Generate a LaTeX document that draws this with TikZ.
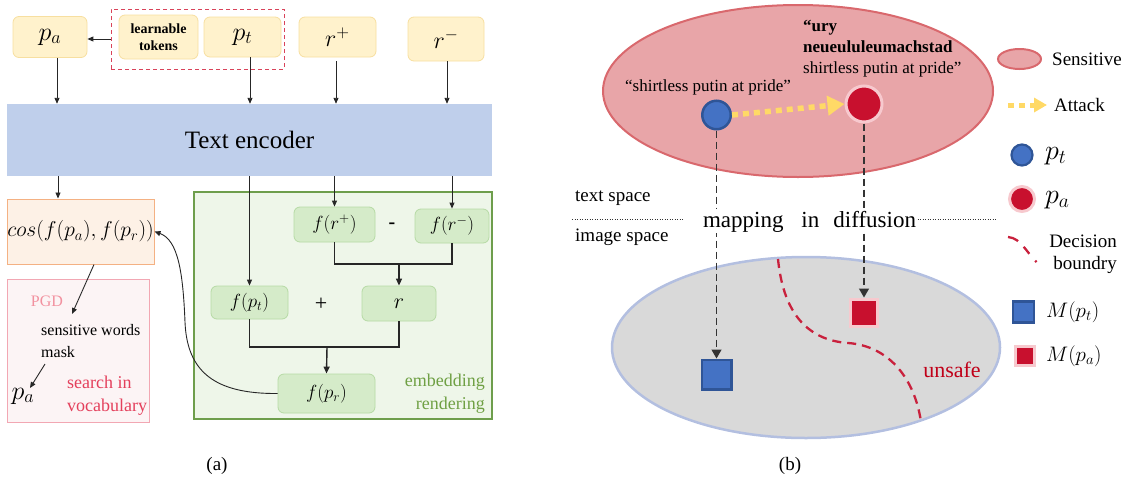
\documentclass[tikz,border=0pt]{standalone}
\usepackage{fix-cm}
\usepackage{fontspec}
\setmainfont{Liberation Serif}
\usetikzlibrary{arrows.meta,shapes.geometric}
\newcommand{\fsz}[2]{\fontsize{#1}{#2}\selectfont}
\definecolor{cYbox}{HTML}{FFF2CC}
\definecolor{cYline}{HTML}{F7DFA0}
\definecolor{cEnc}{HTML}{BFCFEB}
\definecolor{cDash}{HTML}{D9435A}
\definecolor{cCosFill}{HTML}{FDF1E6}
\definecolor{cCosLine}{HTML}{F4B183}
\definecolor{cPgdFill}{HTML}{FCF4F5}
\definecolor{cPgdLine}{HTML}{F2A7B3}
\definecolor{cPgdTxt}{HTML}{F2919F}
\definecolor{cSearch}{HTML}{E4405C}
\definecolor{cGpanel}{HTML}{EEF6E9}
\definecolor{cGpline}{HTML}{6E9E4C}
\definecolor{cGbox}{HTML}{D5EBC9}
\definecolor{cGline}{HTML}{B6DAA5}
\definecolor{cGtxt}{HTML}{6FA044}
\definecolor{cSens}{HTML}{E8A5A8}
\definecolor{cSensLine}{HTML}{D9686D}
\definecolor{cBlue}{HTML}{4472C4}
\definecolor{cBlueLine}{HTML}{2F5597}
\definecolor{cRed}{HTML}{C8102E}
\definecolor{cHalo}{HTML}{F7C9CE}
\definecolor{cAttack}{HTML}{FFD966}
\definecolor{cImg}{HTML}{D9D9D9}
\definecolor{cImgLine}{HTML}{B3BFE0}
\definecolor{cDb}{HTML}{C9213D}
\definecolor{cUnsafe}{HTML}{C00018}
\begin{document}
\begin{tikzpicture}[x=1pt,y=-1pt,
  yellowbox/.style={rectangle, rounded corners=6, fill=cYbox, draw=cYline, line width=0.8, inner sep=0},
  greenbox/.style={rectangle, rounded corners=6, fill=cGbox, draw=cGline, line width=0.8, inner sep=0},
  arr/.style={draw=black!85, line width=0.9, -{Triangle[length=6,width=5]}},
  arrtwo/.style={draw=black!85, line width=1.4, -{Triangle[length=7,width=6]}},
  plainline/.style={draw=black!85, line width=1.4},
  bluedot/.style={circle, fill=cBlue, draw=cBlueLine, inner sep=0},
  reddot/.style={circle, fill=cRed, draw=cHalo, inner sep=0},
  bluesq/.style={rectangle, fill=cBlue, draw=cBlueLine, inner sep=0},
  redsq/.style={rectangle, fill=cRed, draw=cHalo, inner sep=0},
  attackarr/.style={draw=cAttack, line width=5.5, dash pattern=on 6 off 5, -{Triangle[length=17,width=19]}},
  attackarrtwo/.style={draw=cAttack, line width=5, dash pattern=on 6 off 5, -{Triangle[length=13,width=14]}},
  maparr/.style={draw=black!80, line width=1.4, dash pattern=on 7 off 4, -{Triangle[length=9,width=10]}},
  dotline/.style={draw=black!80, line width=1, dash pattern=on 1 off 1.5},
  dbl/.style={draw=cDb, line width=2.3, dash pattern=on 9 off 6},
  lbl/.style={anchor=west, inner sep=0}
]
\useasboundingbox (0,0) rectangle (1129,485);
% ---------------- panel (a) ----------------
\node[yellowbox, minimum width=74, minimum height=41, font=\fsz{26}{30}] (pa) at (50,37) {$p_a$};
\node[yellowbox, minimum width=79, minimum height=44, align=center, font=\fsz{14}{17}\bfseries] (lt) at (158.5,37) {learnable\\tokens};
\node[yellowbox, minimum width=77, minimum height=40, font=\fsz{26}{30}] (pt) at (242.5,37) {$p_t$};
\node[yellowbox, minimum width=77, minimum height=40, font=\fsz{24}{28}] (rp) at (337.5,37) {$r^+$};
\node[yellowbox, minimum width=76, minimum height=44, font=\fsz{24}{28}] (rm) at (446,39) {$r^-$};
\node[draw=cDash, line width=0.9, dash pattern=on 4 off 3, minimum width=173, minimum height=60, inner sep=0] (grp) at (197.5,39) {};
\draw[arr] (grp.west) -- (grp.west -| pa.east);
\node[rectangle, fill=cEnc, minimum width=485, minimum height=72, inner sep=0, font=\fsz{25}{30}] (enc) at (249.5,140) {Text encoder};
\coordinate (a1) at ([xshift=7]pa.south);
\coordinate (a2) at ([xshift=7.5]pt.south);
\coordinate (a3) at ([xshift=-1.5,yshift=-4]rp.south);
\coordinate (a4) at ([xshift=1]rm.south);
\draw[arr] (a1) -- (a1 |- enc.north);
\draw[arr] (a2) -- (a2 |- enc.north);
\draw[arr] (a3) -- (a3 |- enc.north);
\draw[arr] (a4) -- (a4 |- enc.north);
% cos and PGD
\node[rectangle, fill=cCosFill, draw=cCosLine, line width=1, minimum width=147, minimum height=65, inner sep=0, font=\fsz{21.5}{25}] (cos) at (80.5,231.5) {$cos(f(p_a),f(p_r))$};
\coordinate (c1) at ([xshift=-22.5]cos.north);
\draw[arr] (c1 |- enc.south) -- (c1);
\node[rectangle, fill=cPgdFill, draw=cPgdLine, line width=1, minimum width=142, minimum height=143, inner sep=0] (pgd) at (78,350.5) {};
\node[text=cPgdTxt, inner sep=0, font=\fsz{16}{19}] (pgdt) at (47,301) {PGD};
\node[lbl, align=left, font=\fsz{16}{22}] (sw) at (41,341) {sensitive words\\mask};
\node[inner sep=0, font=\fsz{26}{30}] (pa2) at (23,396) {$p_a$};
\node[lbl, align=left, text=cSearch, font=\fsz{18}{23}] (srch) at (67,395.5) {search in\\vocabulary};
\coordinate (c2) at ([xshift=13.5]cos.south);
\coordinate (q1) at (72,314);
\draw[arr] (c2) -- (q1);
\coordinate (q2) at (45,364);
\coordinate (q3) at (30,388);
\draw[arr] (q2) -- (q3);
% green panel
\node[rectangle, fill=cGpanel, draw=cGpline, line width=1.2, minimum width=298, minimum height=227, inner sep=0] (gp) at (343,305.5) {};
\node[greenbox, minimum width=81, minimum height=35, font=\fsz{19}{23}] (frp) at (334.5,224.5) {$f(r^+)$};
\node[inner sep=0, font=\fsz{20}{24}\bfseries] (minus) at (392,226) {-};
\node[greenbox, minimum width=74, minimum height=34, font=\fsz{19}{23}] (frm) at (452,226) {$f(r^-)$};
\node[greenbox, minimum width=77, minimum height=33, font=\fsz{19}{23}] (fpt) at (249.5,302.5) {$f(p_t)$};
\node[inner sep=0, font=\fsz{22}{26}] (plus) at (321,304) {+};
\node[greenbox, minimum width=74, minimum height=35, font=\fsz{22}{26}] (rr) at (399,303.5) {$r$};
\node[greenbox, minimum width=97, minimum height=39, font=\fsz{19}{23}] (fpr) at (326.5,393.5) {$f(p_r)$};
\node[anchor=east, align=right, inner sep=0, text=cGtxt, font=\fsz{18}{23}] (emb) at (485,393.5) {embedding\\rendering};
\draw[arr] (enc.south -| frp.north) -- (frp.north);
\draw[arr] (enc.south -| frm.north) -- (frm.north);
\draw[arr] (enc.south -| fpt.north) -- (fpt.north);
\coordinate (j1) at (399,264);
\draw[plainline] (frp.south) |- (j1) -| (frm.south);
\draw[arrtwo] (j1) -- (rr.north);
\coordinate (j2) at (327,347);
\draw[plainline] (fpt.south) |- (j2) -| (rr.south);
\draw[arrtwo] (j2) -- (fpr.north);
\draw[arr] (fpr.west) .. controls (215,394) and (187,372) .. (185,322) .. controls (183,272) and (178,240) .. (cos.east);
\node[inner sep=0, font=\fsz{19}{22}] (la) at (217,466) {(a)};
% ---------------- panel (b) ----------------
\node[ellipse, fill=cSens, draw=cSensLine, line width=2, minimum width=390, minimum height=172, inner sep=0] (sens) at (798,91) {};
\node[ellipse, fill=cImg, draw=cImgLine, line width=2.5, minimum width=388, minimum height=181, inner sep=0] (img) at (806,347.5) {};
\coordinate (db1) at (778,259);
\coordinate (db2) at (921,422);
\draw[dbl] (db1) .. controls (783,310) and (805,340) .. (848,343) .. controls (890,346) and (915,380) .. (db2);
\node[bluedot, line width=2.5, minimum size=28.5] (bc) at (716.5,115) {};
\node[reddot, line width=3, minimum size=36] (rc) at (864,104) {};
\node[bluesq, line width=2.5, minimum size=29.5] (bsq) at (716.5,374.5) {};
\node[redsq, line width=3, minimum size=27] (rsq) at (864,312.5) {};
\draw[attackarr] (bc.east) -- (rc.west);
\draw[maparr] (bc.south) -- (bsq.north);
\draw[maparr] (rc.south) -- (rsq.north);
\node[inner sep=0, font=\fsz{17}{20}] (q) at (708,87) {“shirtless putin at pride”};
\node[lbl, align=left, font=\fsz{17}{21}] (adv) at (803,49) {\textbf{“ury}\\\textbf{neueululeumachstad}\\shirtless putin at pride”};
\node[lbl, font=\fsz{19}{22}] (tsp) at (575,198) {text space};
\node[lbl, font=\fsz{19}{22}] (isp) at (575,237) {image space};
\node[fill=white, inner sep=1.5, anchor=base, font=\fsz{23}{27}] (map) at (809.5,227) {mapping\hspace{18pt}in\hspace{14pt}diffusion};
\coordinate (dl) at (572,219);
\coordinate (dr) at (683,219);
\coordinate (dr2) at (997,219);
\draw[dotline] (dl) -- (dr);
\draw[dotline] (map.east |- dr2) -- (dr2);
\node[text=cUnsafe, inner sep=0, font=\fsz{22}{26}] (uns) at (952,370) {unsafe};
\node[inner sep=0, font=\fsz{19}{22}] (lb) at (790,466) {(b)};
% legend
\node[ellipse, fill=cSens, draw=cSensLine, line width=2, minimum width=43, minimum height=20, inner sep=0] (lsens) at (1019.5,59) {};
\node[lbl, font=\fsz{19}{22}] (lsenst) at (1052,59) {Sensitive};
\coordinate (la1) at (1008,105);
\coordinate (la2) at (1047,105);
\draw[attackarrtwo] (la1) -- (la2);
\node[lbl, font=\fsz{19}{22}] (latt) at (1054,105) {Attack};
\node[bluedot, line width=2.2, minimum size=21] (lbc) at (1022,155) {};
\node[lbl, font=\fsz{28}{32}] (lpt) at (1045,156) {$p_t$};
\node[reddot, line width=3, minimum size=25] (lrc) at (1022,199) {};
\node[lbl, font=\fsz{28}{32}] (lpa) at (1045,200) {$p_a$};
\coordinate (ld1) at (1008,237);
\coordinate (ld2) at (1041,266);
\draw[draw=cDb, line width=2.3, dash pattern=on 11 off 8 on 9 off 9 on 2 off 20] (ld1) .. controls (1022,238) and (1027,255) .. (ld2);
\node[anchor=east, align=right, inner sep=0, font=\fsz{19}{22}] (ldec) at (1117,254) {Decision\\boundry};
\node[bluesq, line width=2.2, minimum size=21] (lbsq) at (1023.5,312) {};
\node[lbl, font=\fsz{21}{25}] (lmpt) at (1046,312) {$M(p_t)$};
\node[redsq, line width=3, minimum size=19.5] (lrsq) at (1025,356) {};
\node[lbl, font=\fsz{21}{25}] (lmpa) at (1046,356) {$M(p_a)$};
\end{tikzpicture}
\end{document}
